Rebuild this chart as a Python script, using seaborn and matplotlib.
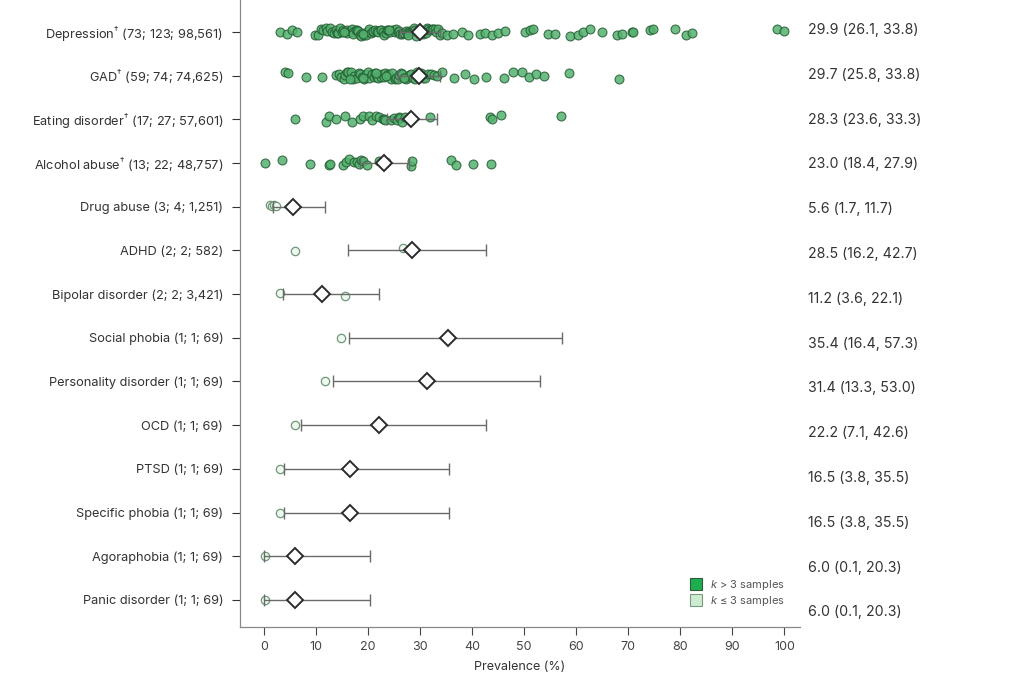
import numpy as np
import pandas as pd
import matplotlib
matplotlib.use("Agg")
import matplotlib.pyplot as plt
from matplotlib.patches import Patch
import seaborn as sns

# ---------------- data ----------------
labels = [
    "Depression$^{†}$ (73; 123; 98,561)",
    "GAD$^{†}$ (59; 74; 74,625)",
    "Eating disorder$^{†}$ (17; 27; 57,601)",
    "Alcohol abuse$^{†}$ (13; 22; 48,757)",
    "Drug abuse (3; 4; 1,251)",
    "ADHD (2; 2; 582)",
    "Bipolar disorder (2; 2; 3,421)",
    "Social phobia (1; 1; 69)",
    "Personality disorder (1; 1; 69)",
    "OCD (1; 1; 69)",
    "PTSD (1; 1; 69)",
    "Specific phobia (1; 1; 69)",
    "Agoraphobia (1; 1; 69)",
    "Panic disorder (1; 1; 69)",
]
many_samples = [True, True, True, True, False, False, False,
                False, False, False, False, False, False, False]

pooled = [29.9, 29.7, 28.3, 23.0, 5.6, 28.5, 11.2, 35.4, 31.4, 22.2, 16.5, 16.5, 6.0, 6.0]
ci_low = [26.1, 25.8, 23.6, 18.4, 1.7, 16.2, 3.6, 16.4, 13.3, 7.1, 3.8, 3.8, 0.1, 0.1]
ci_high = [33.8, 33.8, 33.3, 27.9, 11.7, 42.7, 22.1, 57.3, 53.0, 42.6, 35.5, 35.5, 20.3, 20.3]

depression = [
    3.1, 4.4, 5.4, 6.3,
    9.8, 10.4, 10.9, 11.3, 11.9, 12.2, 12.6, 13.1, 13.4, 13.9,
    14.1, 14.3, 14.7, 15.0, 15.1, 15.6, 15.9, 16.0, 16.5, 16.9,
    17.1, 17.2, 17.7, 17.8, 18.0, 18.4, 18.6, 18.9, 19.2, 19.6,
    19.9, 20.1, 20.5, 20.9, 21.0, 21.3, 21.8, 22.0, 22.4, 22.5,
    22.9, 23.0, 23.4, 23.6, 23.9, 24.2, 24.6, 24.9, 25.1, 25.4,
    25.7, 26.0, 26.1, 26.6, 26.8, 27.0, 27.3, 27.5, 27.9, 28.1,
    28.4, 28.6, 28.9, 29.0, 29.3, 29.7, 30.1, 30.3, 30.5, 30.8,
    31.1, 31.4, 31.6, 31.9, 32.2, 32.5, 32.8, 33.1, 33.5, 33.9,
    34.3, 15.3, 19.0, 24.0, 27.7,
    35.2, 36.3, 38.0, 39.2, 41.5, 42.5, 43.8, 45.0, 46.3, 50.2,
    51.2, 51.7, 54.6, 56.0, 58.8, 60.4, 61.3, 62.7, 65.0, 67.9,
    68.8, 70.8, 71.0, 74.2, 74.8, 79.0, 81.0, 82.3, 98.5, 100.0,
]
gad = [
    4.0, 4.6, 8.1, 11.2,
    13.8, 14.5, 14.9, 15.3, 15.6, 16.0, 16.2, 16.7, 17.1, 17.4,
    17.9, 18.2, 18.5, 18.8, 19.3, 19.6, 20.0, 20.2, 20.7, 21.1,
    21.3, 21.8, 22.0, 22.4, 22.7, 23.1, 23.3, 23.8, 24.0, 24.4,
    24.6, 25.1, 25.3, 25.7, 26.0, 26.3, 26.6, 27.0, 27.2, 27.6,
    27.9, 28.3, 28.6, 29.0, 29.4, 30.2, 30.6, 31.0, 31.5, 32.1,
    32.6, 33.2, 34.2, 19.0, 23.5, 26.9, 21.5, 16.5,
    36.5, 38.7, 40.4, 42.7, 46.2, 47.9, 49.6, 51.0, 52.3, 53.8,
    58.7, 68.3,
]
eating = [6.0, 12.0, 12.5, 13.8, 15.6, 17.0, 18.5, 19.0, 20.2, 20.7,
          21.5, 22.2, 22.8, 23.0, 23.3, 24.5, 25.0, 25.6, 26.0, 26.2,
          26.6, 27.1, 31.9, 43.5, 43.9, 45.6, 57.1]
alcohol = [0.2, 3.5, 8.9, 12.5, 12.7, 15.2, 15.8, 16.3, 17.3, 17.8,
           18.3, 18.7, 19.0, 19.8, 22.1, 23.4, 28.3, 28.5, 36.0, 36.9,
           40.2, 43.6]
drug = [1.2, 1.5, 1.9, 2.3]
adhd = [6.0, 26.8]
bipolar = [3.1, 15.5]
social = [14.8]
personality = [11.7]
ocd = [6.0]
ptsd = [3.1]
specific = [3.1]
agoraphobia = [0.2]
panic = [0.2]

study_values = [depression, gad, eating, alcohol, drug, adhd, bipolar,
                social, personality, ocd, ptsd, specific, agoraphobia, panic]

right_text = [f"{p:.1f} ({lo:.1f}, {hi:.1f})" for p, lo, hi in zip(pooled, ci_low, ci_high)]

rows = []
for lab, vals, many in zip(labels, study_values, many_samples):
    for v in vals:
        rows.append({"disorder": lab, "prevalence": v,
                     "group": "k > 3" if many else "k ≤ 3"})
df = pd.DataFrame(rows)

# ---------------- style ----------------
sns.set_theme(style="white")
plt.rcParams["font.family"] = ["Inter", "DejaVu Sans"]
plt.rcParams["mathtext.fontset"] = "custom"
plt.rcParams["mathtext.rm"] = "Inter"
plt.rcParams["mathtext.it"] = "Inter:italic"
plt.rcParams["mathtext.fallback"] = "stix"

dark_fill = "#55b26e"
dark_edge = "#245c34"
light_fill = "#eef7f0"
light_edge = "#6f9878"

fig = plt.figure(figsize=(10.24, 6.83), dpi=100)
ax = fig.add_axes([240 / 1024, 1 - 627 / 683, 560 / 1024, 627 / 683])

np.random.seed(3)
sns.stripplot(data=df[df["group"] == "k > 3"], x="prevalence", y="disorder",
              order=labels, orient="h", color=dark_fill, edgecolor=dark_edge,
              linewidth=0.8, size=6.4, alpha=0.85, jitter=0.09, ax=ax, zorder=2)
sns.stripplot(data=df[df["group"] == "k ≤ 3"], x="prevalence", y="disorder",
              order=labels, orient="h", color=light_fill, edgecolor=light_edge,
              linewidth=0.9, size=6.0, alpha=1.0, jitter=0.05, ax=ax, zorder=2)

ypos = np.arange(len(labels))
pooled_a = np.array(pooled)
xerr = [pooled_a - np.array(ci_low), np.array(ci_high) - pooled_a]
ax.errorbar(pooled_a, ypos, xerr=xerr, fmt="none", ecolor="#6a6a6a",
            elinewidth=1.0, capsize=4, capthick=1.0, zorder=3)
ax.plot(pooled_a, ypos, linestyle="none", marker="D", markersize=8,
        markerfacecolor="white", markeredgecolor="#2b2b2b",
        markeredgewidth=1.4, zorder=4)

ax.set_xlim(-4.6, 103)
ax.set_ylim(13.62, -0.73)
ax.set_xticks(range(0, 101, 10))
ax.set_xlabel("Prevalence (%)", fontsize=9, color="#333333", labelpad=6)
ax.set_ylabel("")
ax.tick_params(axis="x", labelsize=9, colors="#444444", length=6, width=0.8,
               direction="out", bottom=True, pad=4)
ax.tick_params(axis="y", labelsize=9.2, colors="#333333", length=6, width=0.8,
               direction="out", left=True, pad=6)
for lab in ax.get_yticklabels():
    lab.set_color("#333333")

for side in ["top", "right"]:
    ax.spines[side].set_visible(False)
for side in ["left", "bottom"]:
    ax.spines[side].set_color("#888888")
    ax.spines[side].set_linewidth(0.9)

for i, t in enumerate(right_text):
    fig.text(808 / 1024, 1 - (30 + i * 44.8) / 683, t, fontsize=10.2,
             color="#333333", ha="left", va="center")

handles = [Patch(facecolor="#1fae4f", edgecolor="#2d5c39", linewidth=0.8),
           Patch(facecolor="#cdeccf", edgecolor="#7a9a80", linewidth=0.8)]
ax.legend(handles, ["$k$ > 3 samples", "$k$ ≤ 3 samples"], loc="lower right",
          bbox_to_anchor=(0.99, 0.015), frameon=False, fontsize=8,
          handlelength=1.1, handleheight=1.2, handletextpad=0.7,
          labelspacing=0.15, labelcolor="#555555")

fig.savefig("out.png", dpi=100, facecolor="white")
